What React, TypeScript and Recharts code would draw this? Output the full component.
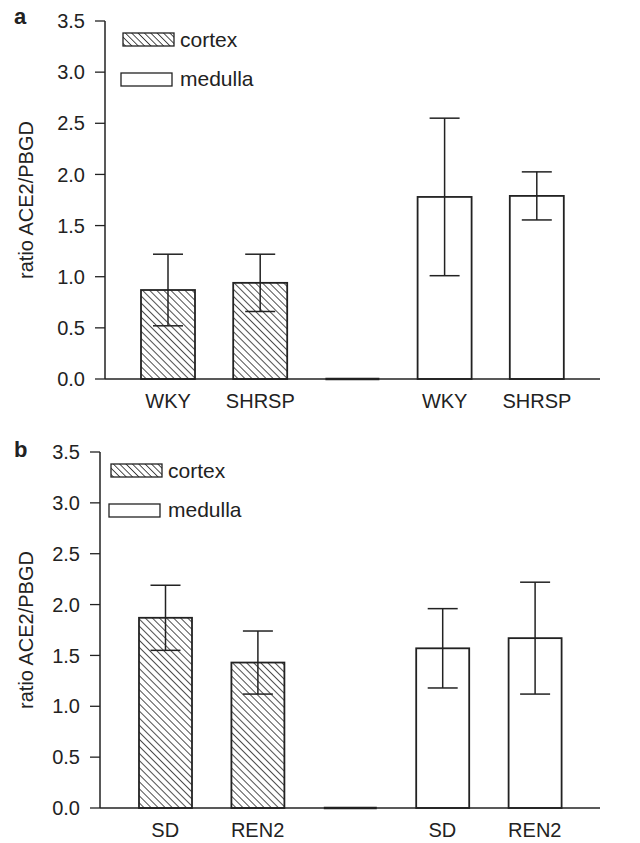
import { Bar, BarChart, ErrorBar, XAxis, YAxis } from "recharts";

const FONT = '"Liberation Sans", Arial, Helvetica, sans-serif';
const INK = "#222";

// panel a: WKY / SHRSP rats
const strainsA = ["WKY", "SHRSP", "", "WKY", "SHRSP"];
const tissueA = ["cortex", "cortex", "gap", "medulla", "medulla"];
const ratioA = [0.87, 0.94, 0, 1.78, 1.79];
const errorA = [0.35, 0.28, null, 0.77, 0.235];

// panel b: SD / REN2 rats
const strainsB = ["SD", "REN2", "", "SD", "REN2"];
const tissueB = ["cortex", "cortex", "gap", "medulla", "medulla"];
const ratioB = [1.87, 1.43, 0, 1.57, 1.67];
const errorB = [0.32, 0.31, null, 0.39, 0.55];

const yTicks = [0, 0.5, 1, 1.5, 2, 2.5, 3, 3.5];
const legendItems = ["cortex", "medulla"];

const buildRows = (strains: string[], ratio: number[], error: (number | null)[]) =>
  strains.map((s, i) => ({ key: `${i}-${s}`, ratio: ratio[i], err: error[i] }));

const makeShape = (tissue: string[], patternId: string) => (props: any) => {
  const { x, y, width, height, index } = props;
  if (!height || Math.abs(height) < 0.5) {
    return <line x1={x} x2={x + width} y1={y} y2={y} stroke={INK} strokeWidth={2.5} />;
  }
  return (
    <rect
      x={x}
      y={y}
      width={width}
      height={height}
      fill={tissue[index] === "cortex" ? `url(#${patternId})` : "#fff"}
      stroke={INK}
      strokeWidth={1.8}
    />
  );
};

function Hatch({ id, step }: { id: string; step: number }) {
  return (
    <pattern id={id} width={step} height={step} patternUnits="userSpaceOnUse" patternTransform="rotate(-45)">
      <rect width={step} height={step} fill="#fff" />
      <line x1={0} y1={0} x2={0} y2={step} stroke={INK} strokeWidth={1.6} />
    </pattern>
  );
}

// legend box: swatch + label, drawn 8px lower inside its own svg so the text is not clipped
function LegendBox({ id }: { id: string }) {
  return (
    <svg width={220} height={80} style={{ display: "block" }}>
      <defs>
        <Hatch id={id} step={4.5} />
      </defs>
      {legendItems.map((name, i) => (
        <g key={name}>
          <rect
            x={i === 0 ? 3 : 1}
            y={11 + i * 40}
            width={51}
            height={13}
            fill={name === "cortex" ? `url(#${id})` : "#fff"}
            stroke={INK}
            strokeWidth={1.3}
          />
          <text x={60} y={25 + i * 39} fontFamily={FONT} fontSize={21} fill={INK}>
            {name}
          </text>
        </g>
      ))}
    </svg>
  );
}

type PanelProps = {
  letter: string;
  top: number;
  axisX: number;
  height: number;
  padX: number;
  barSize: number;
  legendLeft: number;
  strains: string[];
  tissue: string[];
  ratio: number[];
  error: (number | null)[];
  patternId: string;
};

function Panel(p: PanelProps) {
  const rows = buildRows(p.strains, p.ratio, p.error);
  return (
    <div style={{ position: "absolute", left: 0, top: p.top, width: 640, height: p.height }}>
      <div
        style={{
          position: "absolute",
          left: 14,
          top: p.letter === "a" ? 4 : 6,
          fontFamily: FONT,
          fontWeight: "bold",
          fontSize: 22,
          color: INK,
        }}
      >
        {p.letter}
      </div>
      <div style={{ position: "absolute", left: p.legendLeft, top: 22 }}>
        <LegendBox id={`${p.patternId}-legend`} />
      </div>
      <BarChart
        width={640}
        height={p.height}
        data={rows}
        margin={{ top: 21, right: 40, left: 0, bottom: 0 }}
      >
        <defs>
          <Hatch id={p.patternId} step={5} />
        </defs>
        <XAxis
          dataKey="key"
          height={40}
          padding={{ left: p.padX, right: p.padX }}
          tickFormatter={(_v: any, i: number) => p.strains[i]}
          tickLine={false}
          tickSize={0}
          tickMargin={15}
          axisLine={{ stroke: INK, strokeWidth: 1.5 }}
          tick={{ fill: INK, fontSize: 20, fontFamily: FONT }}
          interval={0}
        />
        <YAxis
          width={p.axisX}
          domain={[0, 3.5]}
          ticks={yTicks}
          tickFormatter={(v: number) => v.toFixed(1)}
          tickSize={10}
          tickMargin={10}
          axisLine={{ stroke: INK, strokeWidth: 1.5 }}
          tickLine={{ stroke: INK, strokeWidth: 1.3 }}
          tick={{ fill: INK, fontSize: 20, fontFamily: FONT }}
          label={{
            value: "ratio ACE2/PBGD",
            angle: -90,
            position: "insideLeft",
            offset: 26,
            style: { textAnchor: "middle", fill: INK, fontSize: 20, fontFamily: FONT },
          }}
        />
        <Bar
          dataKey="ratio"
          barSize={p.barSize}
          isAnimationActive={false}
          shape={makeShape(p.tissue, p.patternId)}
        >
          <ErrorBar dataKey="err" width={15} stroke={INK} strokeWidth={1.5} direction="y" />
        </Bar>
      </BarChart>
    </div>
  );
}

export default function App() {
  return (
    <div style={{ position: "absolute", left: 0, top: 0, width: 640, height: 843, background: "#fff" }}>
      <Panel
        letter="a"
        top={0}
        axisX={105}
        height={419}
        padX={17}
        barSize={54}
        legendLeft={120}
        strains={strainsA}
        tissue={tissueA}
        ratio={ratioA}
        error={errorA}
        patternId="hatchA"
      />
      <Panel
        letter="b"
        top={431}
        axisX={100}
        height={417}
        padX={19}
        barSize={53}
        legendLeft={108}
        strains={strainsB}
        tissue={tissueB}
        ratio={ratioB}
        error={errorB}
        patternId="hatchB"
      />
    </div>
  );
}
